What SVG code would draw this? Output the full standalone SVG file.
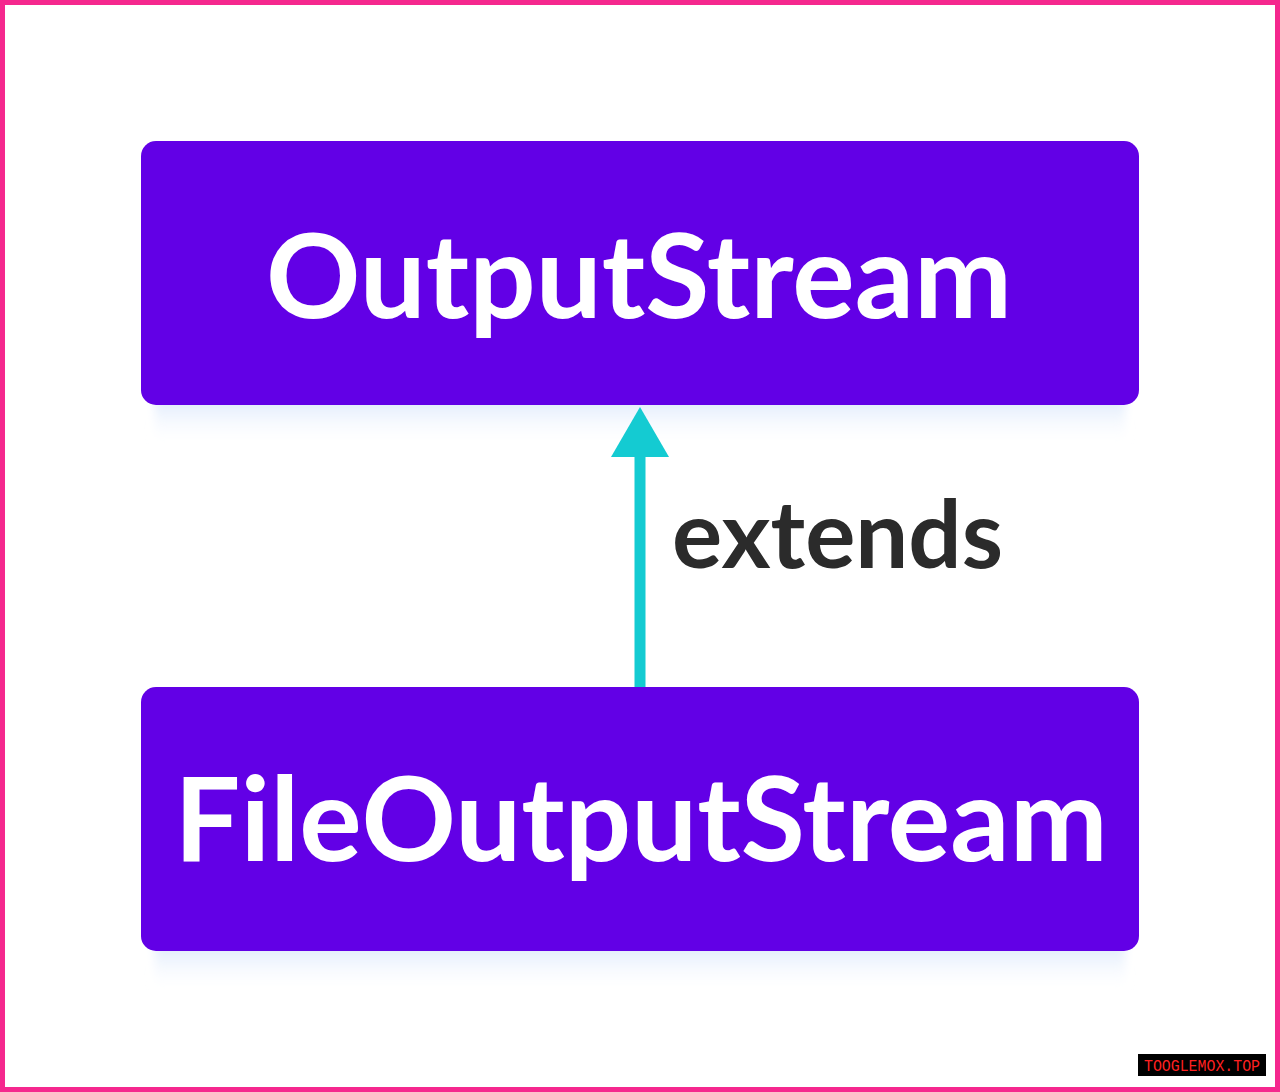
<svg xmlns="http://www.w3.org/2000/svg" width="1280" height="1092" viewBox="0 0 1280 1092">
  <defs>
    <linearGradient id="shadow" x1="0" y1="0" x2="0" y2="1">
      <stop offset="0" stop-color="#d8e6fb"/>
      <stop offset="1" stop-color="#ffffff" stop-opacity="0"/>
    </linearGradient>
    <filter id="blur" x="-10%" y="-50%" width="120%" height="200%">
      <feGaussianBlur stdDeviation="5"/>
    </filter>
  </defs>
  <style>
    .box { fill: #6200e6; }
    .label { font-family: Lato, "Liberation Sans", sans-serif; font-weight: bold; fill: #ffffff; font-size: 117px; text-anchor: middle; }
    .edge { stroke: #14cbd2; stroke-width: 11; fill: none; }
    .head { fill: #14cbd2; }
    .elabel { font-family: Lato, "Liberation Sans", sans-serif; font-weight: bold; fill: #2b2b2b; font-size: 94px; }
  </style>
  <rect x="0" y="0" width="1280" height="1092" fill="#ffffff"/>
  <rect x="2.5" y="2.5" width="1275" height="1087" fill="none" stroke="#f5288e" stroke-width="5"/>

  <g id="node-outputstream">
    <rect x="155" y="395" width="970" height="52" fill="url(#shadow)" filter="url(#blur)"/>
    <rect class="box" x="141" y="141" width="998" height="264" rx="15"/>
    <text class="label" x="639" y="318">OutputStream</text>
  </g>

  <g id="node-fileoutputstream">
    <rect x="155" y="941" width="970" height="52" fill="url(#shadow)" filter="url(#blur)"/>
    <rect class="box" x="141" y="687" width="998" height="264" rx="15"/>
    <text class="label" x="641" y="861">FileOutputStream</text>
  </g>

  <g id="connectors">
    <line class="edge" x1="640" y1="687" x2="640" y2="456"/>
    <path class="head" d="M611 457 L640 407 L669 457 Z"/>
    <text class="elabel" x="672" y="568">extends</text>
  </g>

  <g id="watermark">
    <rect x="1138" y="1054" width="128" height="22" fill="#000000"/>
    <text x="1202" y="1071" font-family="'Liberation Mono', monospace" font-size="16" fill="#ff2020" text-anchor="middle" textLength="116" lengthAdjust="spacingAndGlyphs">TOOGLEMOX.TOP</text>
  </g>
</svg>
